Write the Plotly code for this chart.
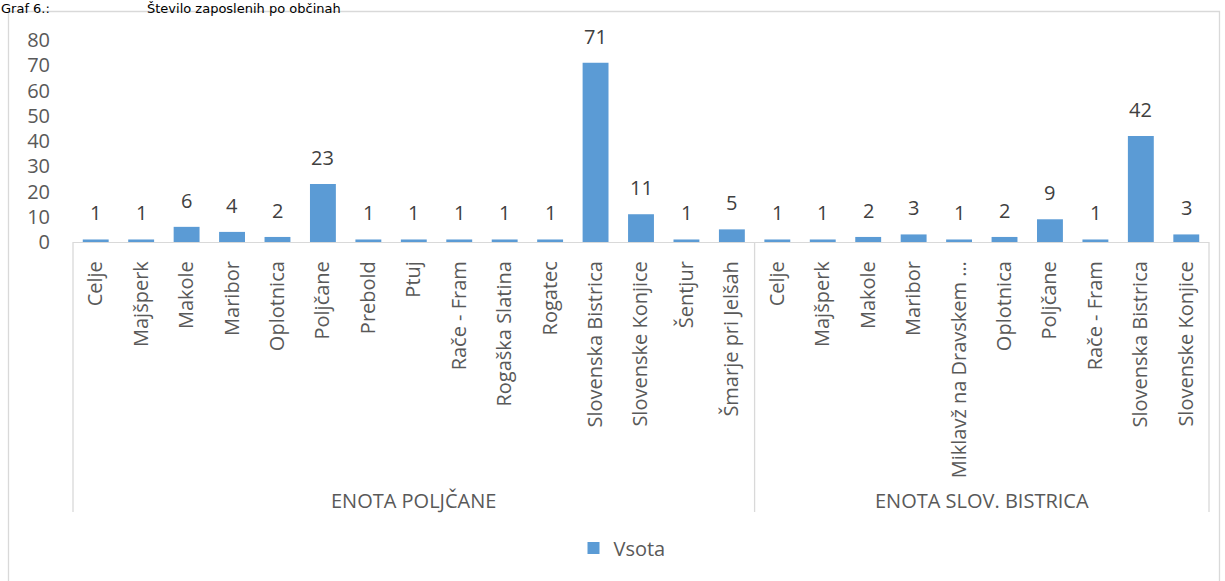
import plotly.graph_objects as go

# ---- data ----
groups = ["ENOTA POLJČANE", "ENOTA SLOV. BISTRICA"]
municipalities_poljcane = ["Celje", "Majšperk", "Makole", "Maribor", "Oplotnica", "Poljčane",
                           "Prebold", "Ptuj", "Rače - Fram", "Rogaška Slatina", "Rogatec",
                           "Slovenska Bistrica", "Slovenske Konjice", "Šentjur", "Šmarje pri Jelšah"]
values_poljcane = [1, 1, 6, 4, 2, 23, 1, 1, 1, 1, 1, 71, 11, 1, 5]
municipalities_bistrica = ["Celje", "Majšperk", "Makole", "Maribor", "Miklavž na Dravskem …",
                           "Oplotnica", "Poljčane", "Rače - Fram", "Slovenska Bistrica",
                           "Slovenske Konjice"]
values_bistrica = [1, 1, 2, 3, 1, 2, 9, 1, 42, 3]
series_name = "Vsota"
y_ticks = [0, 10, 20, 30, 40, 50, 60, 70, 80]
title_prefix = "Graf 6.:"
title_text = "Število zaposlenih po občinah"

labels = municipalities_poljcane + municipalities_bistrica
values = values_poljcane + values_bistrica
group_sizes = [len(municipalities_poljcane), len(municipalities_bistrica)]
N = len(labels)
xs = list(range(N))

# ---- layout geometry (pixels) ----
W, H = 1225, 581
PL, PR, PT, PB = 73, 1209, 40, 242  # plot area


def px_x(p):
    return (p - PL) / (PR - PL)


def px_y(p):
    return (PB - p) / (PB - PT)


FONT = "Open Sans"
BLUE = "#5B9BD5"
GRAY = "#595959"
DARK = "#404040"
LINE = "#D9D9D9"

fig = go.Figure()
fig.add_trace(go.Bar(x=xs, y=values, name=series_name, marker=dict(color=BLUE, line=dict(width=0)),
                     showlegend=True))

annotations = []
# data labels
for x, v in zip(xs, values):
    annotations.append(dict(x=x, y=v, xref="x", yref="y", text=str(v), showarrow=False,
                            yanchor="bottom", yshift=11, font=dict(family=FONT, size=20, color=DARK)))

# group labels and dividers
shapes = []
start = 0
bounds = [0]
for g, n in zip(groups, group_sizes):
    center = start + (n - 1) / 2
    annotations.append(dict(x=center, y=px_y(500), xref="x", yref="paper", text=g, showarrow=False,
                            yanchor="middle", font=dict(family=FONT, size=20, color=GRAY)))
    start += n
    bounds.append(start)
for b in bounds:
    xp = b / N
    shapes.append(dict(type="line", xref="paper", yref="paper", x0=xp, x1=xp, y0=0, y1=px_y(512),
                       line=dict(color=LINE, width=1.3)))

# outer chart border
shapes.append(dict(type="rect", xref="paper", yref="paper", x0=px_x(8.5), x1=px_x(1219.5),
                   y0=px_y(11.5), y1=px_y(620), line=dict(color=LINE, width=1.3), layer="below"))

# title (top strip)
annotations.append(dict(x=px_x(0), y=px_y(0), xref="paper", yref="paper", text=title_prefix,
                        showarrow=False, xanchor="left", yanchor="top", borderpad=0,
                        font=dict(family="DejaVu Sans", size=13, color="#000000")))
annotations.append(dict(x=px_x(146), y=px_y(0), xref="paper", yref="paper", text=title_text,
                        showarrow=False, xanchor="left", yanchor="top", borderpad=0,
                        font=dict(family="DejaVu Sans", size=13, color="#000000")))

fig.update_layout(
    width=W, height=H,
    margin=dict(l=PL, r=W - PR, t=PT, b=H - PB, pad=0),
    paper_bgcolor="white", plot_bgcolor="white",
    bargap=0.43,
    showlegend=True,
    legend=dict(orientation="h", x=px_x(622), y=px_y(548), xanchor="center", yanchor="middle",
                font=dict(family=FONT, size=20, color=GRAY), itemwidth=30),
    annotations=annotations,
    shapes=shapes,
    xaxis=dict(range=[-0.5, N - 0.5], tickmode="array", tickvals=xs, ticktext=labels, tickangle=-90,
               showline=True, linecolor=LINE, linewidth=1.3, showgrid=False, zeroline=False,
               ticks="", ticklabelstandoff=10, tickfont=dict(family=FONT, size=20, color=GRAY)),
    yaxis=dict(range=[0, 80], tickmode="array", tickvals=y_ticks, showline=False, showgrid=False,
               zeroline=False, ticks="", ticklabelstandoff=22,
               tickfont=dict(family=FONT, size=20, color=GRAY)),
)

fig.write_html("out.html", config={"displayModeBar": False},
               post_script="document.body.style.margin='0';document.body.style.overflow='hidden';")
